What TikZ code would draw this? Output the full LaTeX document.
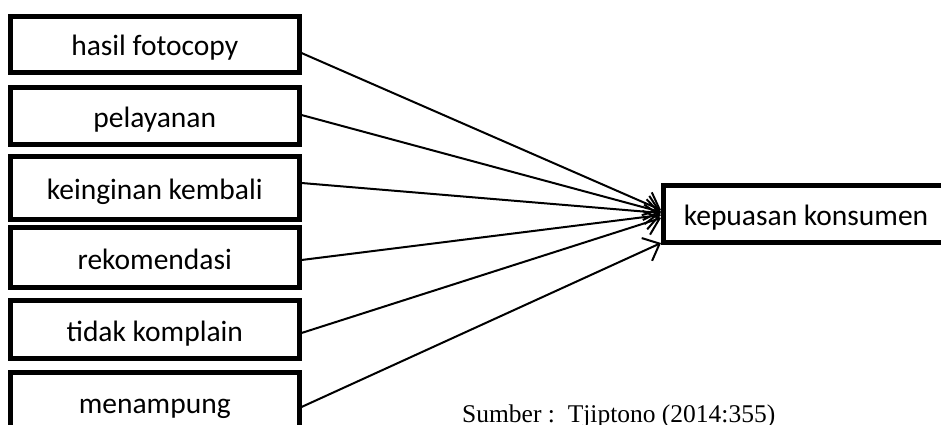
\documentclass[tikz,border=0pt]{standalone}
\usepackage{fontspec}
\setmainfont{Carlito}
\newfontfamily\srcfont{Liberation Serif}
\usetikzlibrary{arrows.meta}
\begin{document}
\begin{tikzpicture}[x=1pt,y=-1pt,
  factor/.style={draw, line width=5pt, inner sep=0pt, minimum width=288.5pt,
    text height=24.5pt, text depth=1.5pt, font=\fontsize{29.5}{34}\selectfont},
  result/.style={factor, minimum width=285pt, minimum height=57pt},
  link/.style={line width=2pt, -{Straight Barb[length=14pt,width=25pt]}}]
\useasboundingbox (0,0) rectangle (941,425);
\clip (0,0) rectangle (941,425);

% indicator boxes
\node[factor, minimum height=56pt] (f1) at (154.75,44.5)  {hasil fotocopy};
\node[factor, minimum height=57pt] (f2) at (154.75,116)   {pelayanan};
\node[factor, minimum height=63pt] (f3) at (154.75,188)   {keinginan kembali};
\node[factor, minimum height=60pt] (f4) at (154.75,257.5) {rekomendasi};
\node[factor, minimum height=58pt] (f5) at (154.75,329.5) {tidak komplain};
\node[factor, minimum height=58pt] (f6) at (154.75,401.5) {menampung};

% outcome box
\node[result] (k) at (806,214) {kepuasan konsumen};

% connectors
\draw[link] ([yshift=-8.5pt]f1.east) -- ([yshift=4pt]k.west);
\draw[link] ([yshift=1pt]f2.east)    -- ([yshift=2pt]k.west);
\draw[link] ([yshift=5pt]f3.east)    -- ([yshift=1pt]k.west);
\draw[link] ([yshift=-2.5pt]f4.east) -- ([yshift=-1pt]k.west);
\draw[link] ([yshift=-3.5pt]f5.east) -- ([yshift=-4pt]k.west);
\draw[link] ([yshift=-5.5pt]f6.east) -- ([yshift=-29pt]k.west);

% source note
\node[anchor=base west, inner sep=0pt, font=\srcfont\fontsize{25.5}{30}\selectfont]
  (src) at (462,422) {Sumber :\ \ Tjiptono (2014:355)};
\end{tikzpicture}
\end{document}
